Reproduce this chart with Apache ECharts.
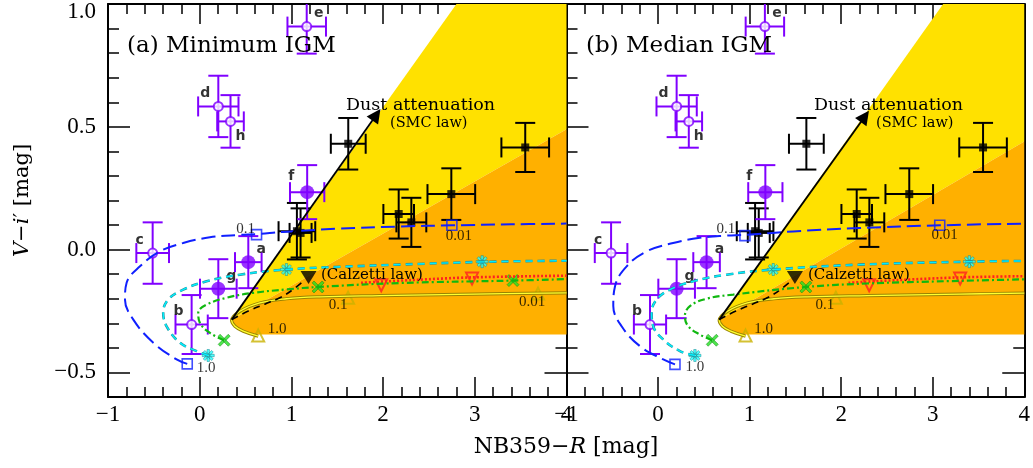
<!DOCTYPE html>
<html><head><meta charset="utf-8">
<script src="https://cdn.jsdelivr.net/npm/echarts@6/dist/echarts.min.js"></script>
<style>html,body{margin:0;padding:0;background:#fff}#c{width:1033px;height:468px}</style>
</head><body><div id="c"></div>
<script>
// ---------------- data ----------------
const xTickValues = [-1, 0, 1, 2, 3, 4];
const yMajorTicks = [-0.5, 0, 0.5, 1.0];
const panelTitles = ['(a) Minimum IGM', '(b) Median IGM'];

// observed objects (same in both panels)
const obsNames  = ['a', 'b', 'c', 'd', 'e', 'f', 'g', 'h'];
const obsX      = [0.53, -0.088, -0.513, 0.203, 1.167, 1.172, 0.203, 0.336];
const obsY      = [-0.051, -0.305, -0.014, 0.583, 0.908, 0.234, -0.159, 0.522];
const obsXErr   = [0.145, 0.176, 0.178, 0.22, 0.21, 0.187, 0.2, 0.145];
const obsYErr   = [0.106, 0.12, 0.125, 0.125, 0.11, 0.11, 0.12, 0.107];
const obsFilled = [true, false, false, false, false, true, true, false];

// black points (same in both panels)
const blkX    = [1.62, 3.55, 2.744, 2.17, 2.308, 1.06, 1.10];
const blkY    = [0.431, 0.416, 0.226, 0.145, 0.111, 0.075, 0.068];
const blkXErr = [0.19, 0.26, 0.26, 0.167, 0.163, 0.2, 0.12];
const blkYErr = [0.105, 0.10, 0.105, 0.10, 0.10, 0.115, 0.10];

// panel (a)
const yellowFillA = [[0.348,-0.285],[2.8,1.0],[4,1.0],[4,0.49]];
const orangeFillA = [[0.348,-0.285],[4,0.49],[4,-0.346],[0.64,-0.346],[0.5,-0.336],[0.4,-0.318],[0.352,-0.298]];
const smcA = [[0.348,-0.285],[1.927,0.549]];
const calzLineA = [[0.35,-0.285],[0.53,-0.25],[0.71,-0.222],[0.89,-0.193],[1.04,-0.156],[1.15,-0.122]];
const calzMarkA = [[1.187,-0.113]];
const yellowLineA = [[0.638,-0.352],[0.475,-0.332],[0.384,-0.312],[0.348,-0.288],[0.438,-0.251],[0.656,-0.217],[0.946,-0.2],[1.31,-0.192],[1.967,-0.187],[3.0,-0.181],[4,-0.176]];
const yellowMarksA = [[0.638,-0.35],[1.618,-0.196],[3.69,-0.179]];
const redLineA = [[1.76,-0.135],[2.3,-0.124],[2.97,-0.113],[4,-0.106]];
const redMarksA = [[1.98,-0.145],[2.97,-0.118]];
const greenLineA = [[0.267,-0.369],[0.111,-0.339],[0.002,-0.298],[-0.016,-0.257],[0.075,-0.224],[0.293,-0.196],[0.583,-0.176],[0.95,-0.162],[1.291,-0.152],[2.18,-0.136],[3.417,-0.126],[4,-0.12]];
const greenMarksA = [[0.267,-0.369],[1.291,-0.152],[3.417,-0.126]];
const cyanLineA = [[0.093,-0.431],[-0.034,-0.413],[-0.216,-0.379],[-0.361,-0.312],[-0.398,-0.257],[-0.343,-0.203],[-0.18,-0.163],[0.075,-0.129],[0.438,-0.102],[0.946,-0.081],[1.6,-0.069],[2.18,-0.061],[3.08,-0.05],[4,-0.045]];
const cyanMarksA = [[0.093,-0.431],[0.946,-0.081],[3.08,-0.049]];
const blueLineA = [[-0.136,-0.465],[-0.252,-0.447],[-0.506,-0.379],[-0.724,-0.285],[-0.815,-0.203],[-0.797,-0.135],[-0.651,-0.068],[-0.434,-0.007],[-0.18,0.027],[0.111,0.05],[0.438,0.06],[0.62,0.063],[0.91,0.072],[1.5,0.085],[2.18,0.094],[2.75,0.099],[3.4,0.103],[4,0.106]];
const blueMarksA = [[-0.136,-0.465],[0.62,0.061],[2.75,0.099]];

// panel (b)
const yellowFillB = [[0.668,-0.285],[3.114,1.0],[4,1.0],[4,0.44]];
const orangeFillB = [[0.668,-0.285],[4,0.44],[4,-0.346],[0.96,-0.346],[0.82,-0.336],[0.72,-0.318],[0.672,-0.298]];
const smcB = [[0.668,-0.285],[2.259,0.542]];
const calzLineB = [[0.668,-0.285],[0.85,-0.25],[1.03,-0.222],[1.21,-0.193],[1.36,-0.156],[1.47,-0.122]];
const calzMarkB = [[1.495,-0.113]];
const yellowLineB = [[0.956,-0.352],[0.795,-0.332],[0.704,-0.312],[0.668,-0.288],[0.758,-0.251],[0.976,-0.217],[1.266,-0.2],[1.63,-0.192],[2.287,-0.187],[3.3,-0.181],[4,-0.177]];
const yellowMarksB = [[0.956,-0.35],[1.942,-0.196]];
const redLineB = [[2.08,-0.135],[2.62,-0.124],[3.30,-0.113],[4,-0.108]];
const redMarksB = [[2.306,-0.145],[3.30,-0.118]];
const greenLineB = [[0.592,-0.369],[0.457,-0.346],[0.33,-0.312],[0.293,-0.271],[0.348,-0.23],[0.53,-0.2],[0.821,-0.183],[1.615,-0.152],[2.277,-0.138],[3.2,-0.128],[4,-0.121]];
const greenMarksB = [[0.592,-0.369],[1.615,-0.152]];
const cyanLineB = [[0.403,-0.431],[0.239,-0.413],[0.057,-0.366],[-0.053,-0.312],[-0.07,-0.257],[-0.015,-0.203],[0.13,-0.163],[0.384,-0.129],[0.749,-0.102],[1.258,-0.081],[2.204,-0.061],[3.40,-0.049],[4,-0.046]];
const cyanMarksB = [[0.403,-0.431],[1.258,-0.081],[3.40,-0.049]];
const blueLineB = [[0.185,-0.467],[0.057,-0.447],[-0.198,-0.393],[-0.398,-0.312],[-0.489,-0.23],[-0.47,-0.149],[-0.343,-0.068],[-0.124,-0.007],[0.165,0.027],[0.457,0.048],[0.749,0.057],[0.949,0.06],[1.476,0.074],[2.204,0.088],[3.077,0.099],[4,0.106]];
const blueMarksB = [[0.185,-0.467],[0.949,0.057],[3.077,0.099]];

// marker annotations
const blueLabels = ['1.0', '0.1', '0.01'];
const yellowLabels = ['1.0', '0.1', '0.01'];

// ---------------- styles / positions ----------------
const FNUM = 'Liberation Serif';
const FTXT = 'DejaVu Serif';
const PURPLE = '#8000ff';
const blueLabelOffA = [[19,4],[-11,-6],[7,11]];
const blueLabelOffB = [[20,3],[-19,-7],[5,10]];
const yellowLabelOffA = [[19,-7],[-10,7],[-6,8]];
const yellowLabelOffB = [[18,-7],[-11,7]];
const obsLabelOff = [[13,-13],[-13,-13],[-13,-13],[-13,-13],[12,-13],[-16,-16],[13,-12],[10,15]];

const ASTER = 'path://M-1,-5L1,-5L1,5L-1,5Z M-5,-1L5,-1L5,1L-5,1Z M-2.8,-4.2L4.2,2.8L2.8,4.2L-4.2,-2.8Z M4.2,-2.8L-2.8,4.2L-4.2,2.8L2.8,-4.2Z';
const XMARK = 'path://M-3.4,-5L5,3.4L3.4,5L-5,-3.4Z M5,-3.4L-3.4,5L-5,3.4L3.4,-5Z';

const panels = [
  {yellowFill: yellowFillA, orangeFill: orangeFillA, smc: smcA, calzLine: calzLineA, calzMark: calzMarkA,
   yellowLine: yellowLineA, yellowMarks: yellowMarksA, yellowOff: yellowLabelOffA,
   redLine: redLineA, redMarks: redMarksA, greenLine: greenLineA, greenMarks: greenMarksA,
   cyanLine: cyanLineA, cyanMarks: cyanMarksA, blueLine: blueLineA, blueMarks: blueMarksA, blueOff: blueLabelOffA},
  {yellowFill: yellowFillB, orangeFill: orangeFillB, smc: smcB, calzLine: calzLineB, calzMark: calzMarkB,
   yellowLine: yellowLineB, yellowMarks: yellowMarksB, yellowOff: yellowLabelOffB,
   redLine: redLineB, redMarks: redMarksB, greenLine: greenLineB, greenMarks: greenMarksB,
   cyanLine: cyanLineB, cyanMarks: cyanMarksB, blueLine: blueLineB, blueMarks: blueMarksB, blueOff: blueLabelOffB}
];

function fmtNum(v, d) {
  const s = Math.abs(v).toFixed(d);
  return (v < -1e-9 ? '\u2212' : '') + s;
}

function xAx(g, pos, labels) {
  return {type:'value', gridIndex:g, position:pos, min:-1, max:4, interval:1,
    axisLine:{show:true, onZero:false, lineStyle:{color:'#000', width:2}},
    axisTick:{show:true, inside:true, length:20, lineStyle:{color:'#000', width:1.5}},
    minorTick:{show:true, splitNumber:5, length:10, lineStyle:{color:'#000', width:1.5}},
    splitLine:{show:false}, minorSplitLine:{show:false},
    axisLabel:{show:labels, margin:6, showMinLabel:true, showMaxLabel:true, hideOverlap:false,
      color:'#000', fontFamily:FNUM, fontSize:23,
      customValues: xTickValues,
      formatter: v => fmtNum(v, 0)}
  };
}
function yMinor(g, pos) {
  return {type:'value', gridIndex:g, position:pos, min:-0.6, max:1.0, interval:0.1,
    axisLine:{show:true, onZero:false, lineStyle:{color:'#000', width:2}},
    axisTick:{show:true, inside:true, length:11, lineStyle:{color:'#000', width:1.5}},
    axisLabel:{show:false}, splitLine:{show:false}};
}
function yMajor(g, pos, labels, name) {
  const ax = {type:'value', gridIndex:g, position:pos, min:-0.6, max:1.0,
    axisLine:{show:false, onZero:false},
    axisTick:{show:true, inside:true, length:22, customValues: yMajorTicks, lineStyle:{color:'#000', width:1.5}},
    axisLabel:{show:labels, customValues: yMajorTicks, margin:12, showMinLabel:true, showMaxLabel:true, hideOverlap:false,
      color:'#000', fontFamily:FNUM, fontSize:23,
      formatter: v => Math.abs(v - 1) < 1e-9 ? '{t|' + fmtNum(v, 1) + '}' : fmtNum(v, 1),
      rich:{t:{padding:[16,0,0,0], fontFamily:FNUM, fontSize:23, color:'#000'}}},
    splitLine:{show:false}};
  if (name) {
    ax.name = '{i|V}\u2212{i|i}\u2032 [mag]';
    ax.nameLocation = 'middle';
    ax.nameGap = 75;
    ax.nameRotate = 90;
    ax.nameTextStyle = {fontFamily:FTXT, fontSize:21, color:'#000',
      rich:{i:{fontStyle:'italic', fontFamily:FTXT, fontSize:21, color:'#000'}}};
  }
  return ax;
}

function polySeries(p, pts, color) {
  return {type:'custom', xAxisIndex:2*p, yAxisIndex:4*p, silent:true, clip:true,
    data:[pts[0]],
    renderItem: (params, api) => ({type:'polygon', shape:{points: pts.map(q => api.coord(q))}, style:{fill:color}})};
}
function lineSeries(p, data, color, width, dash, smooth) {
  return {type:'line', xAxisIndex:2*p, yAxisIndex:4*p, data:data, showSymbol:false, symbol:'none',
    smooth:smooth, clip:true, silent:true, lineStyle:{color:color, width:width, type:dash}};
}
function markSeries(p, pts, symbol, size, style, rotate, labels, offsets) {
  return {type:'scatter', xAxisIndex:2*p, yAxisIndex:4*p, symbol:symbol, symbolSize:size,
    symbolRotate: rotate || 0, silent:true, itemStyle:style,
    data: pts.map((v, i) => ({value:v,
      label: (labels && offsets[i]) ? {show:true, position:'inside', formatter:labels[i], offset:offsets[i],
        color:'#000', fontFamily:FNUM, fontSize:15} : {show:false}}))};
}
function errSeries(p, xs, ys, exs, eys, color) {
  const cap = 10;
  return {type:'custom', xAxisIndex:2*p, yAxisIndex:4*p, silent:true, clip:true,
    data: xs.map((x, i) => [x, ys[i], exs[i], eys[i]]),
    renderItem: (params, api) => {
      const x = api.value(0), y = api.value(1), ex = api.value(2), ey = api.value(3);
      const c = api.coord([x, y]);
      const l = api.coord([x - ex, y]), r = api.coord([x + ex, y]);
      const t = api.coord([x, y + ey]), b = api.coord([x, y - ey]);
      const st = {stroke:color, lineWidth:2};
      const ln = (x1, y1, x2, y2) => ({type:'line', shape:{x1:x1, y1:y1, x2:x2, y2:y2}, style:st});
      return {type:'group', children:[
        ln(l[0], c[1], r[0], c[1]), ln(c[0], t[1], c[0], b[1]),
        ln(l[0], c[1]-cap, l[0], c[1]+cap), ln(r[0], c[1]-cap, r[0], c[1]+cap),
        ln(c[0]-cap, t[1], c[0]+cap, t[1]), ln(c[0]-cap, b[1], c[0]+cap, b[1])]};
    }};
}

const series = [];
panels.forEach((P, p) => {
  series.push(polySeries(p, P.yellowFill, '#ffe100'));
  series.push(polySeries(p, P.orangeFill, '#ffb000'));
  // yellow track
  series.push(lineSeries(p, P.yellowLine, '#9a8400', 3.2, 'solid', 0.4));
  series.push(lineSeries(p, P.yellowLine, '#ffff30', 1.3, 'solid', 0.4));
  series.push(markSeries(p, P.yellowMarks, 'triangle', 12, {color:'rgba(0,0,0,0)', borderColor:'#c9b200', borderWidth:2}, 0, yellowLabels, P.yellowOff));
  // Calzetti
  series.push(lineSeries(p, P.calzLine, '#000', 1.6, [7,5], 0.4));
  series.push(markSeries(p, P.calzMark, 'triangle', [16,13], {color:'#000'}, 180));
  // red
  series.push(lineSeries(p, P.redLine, '#ff2020', 2.6, [2,2], 0.3));
  series.push(markSeries(p, P.redMarks, 'triangle', 12, {color:'rgba(0,0,0,0)', borderColor:'#ff2020', borderWidth:2}, 180));
  // green
  series.push(lineSeries(p, P.greenLine, '#10b810', 2.2, [7,3,2,3], 0.4));
  series.push(markSeries(p, P.greenMarks, XMARK, 12, {color:'#22e022', borderColor:'#0f7f0f', borderWidth:0.6}));
  // cyan
  series.push(lineSeries(p, P.cyanLine, '#2a8f98', 2.6, [7,5], 0.4));
  series.push(lineSeries(p, P.cyanLine, '#00f0ff', 1.4, [7,5], 0.4));
  series.push(markSeries(p, P.cyanMarks, ASTER, 12, {color:'#20ffff', borderColor:'#15838c', borderWidth:0.6}));
  // blue
  series.push(lineSeries(p, P.blueLine, '#1020ff', 2, [14,6], 0.4));
  series.push(markSeries(p, P.blueMarks, 'rect', 10, {color:'rgba(0,0,0,0)', borderColor:'#1020ff', borderWidth:1.6}, 0, blueLabels, P.blueOff));
  // SMC arrow
  series.push({type:'line', xAxisIndex:2*p, yAxisIndex:4*p, data:[], silent:true,
    markLine:{silent:true, symbol:['none','triangle'], symbolSize:14, label:{show:false},
      lineStyle:{color:'#000', width:1.8, type:'solid'},
      emphasis:{disabled:true},
      data:[[{coord:P.smc[0]}, {coord:P.smc[1]}]]}});
  // black points
  series.push(errSeries(p, blkX, blkY, blkXErr, blkYErr, '#000'));
  series.push({type:'scatter', xAxisIndex:2*p, yAxisIndex:4*p, symbol:'rect', symbolSize:8, silent:true,
    itemStyle:{color:'#000'}, data: blkX.map((x, i) => [x, blkY[i]])});
  // purple
  series.push(errSeries(p, obsX, obsY, obsXErr, obsYErr, PURPLE));
  series.push({type:'scatter', xAxisIndex:2*p, yAxisIndex:4*p, silent:true,
    data: obsX.map((x, i) => ({value:[x, obsY[i]],
      symbol:'circle', symbolSize: obsFilled[i] ? 14 : 9,
      itemStyle: obsFilled[i] ? {color:PURPLE} : {color:'#fff', borderColor:PURPLE, borderWidth:2},
      label:{show:true, position:'inside', formatter: obsNames[i], offset: obsLabelOff[i],
        color:'#000', fontFamily:'DejaVu Sans', fontWeight:'bold', fontSize:14}}))});
});

function txt(x, y, text, size, family) {
  return {type:'text', x:x, y:y, z:100, zlevel:0, silent:true,
    style:{text:text, fontFamily:family || FTXT, fontSize:size, fill:'#000', align:'left', verticalAlign:'middle',
      textAlign:'left', textVerticalAlign:'middle'}};
}
const richI = {i:{fontStyle:'italic', fontFamily:FTXT, fontSize:22, fill:'#000', color:'#000'}};
const graphic = [
  txt(127, 46, panelTitles[0], 23), txt(586, 46, panelTitles[1], 23),
  txt(346, 105, 'Dust attenuation', 17.5), txt(390, 123, '(SMC law)', 14.5),
  txt(814, 105, 'Dust attenuation', 17.5), txt(876, 123, '(SMC law)', 14.5),
  txt(321, 275, '(Calzetti law)', 15), txt(808, 275, '(Calzetti law)', 15),
  {type:'text', x:566, y:447, z:100, silent:true,
   style:{text:'NB359\u2212{i|R} [mag]', rich:richI, fontFamily:FTXT, fontSize:22, fill:'#000',
     align:'center', verticalAlign:'middle', textAlign:'center', textVerticalAlign:'middle'}}
];

const option = {
  animation:false,
  backgroundColor:'#fff',
  grid:[{left:108, top:4, width:458.5, height:393}, {left:566.5, top:4, width:458, height:393}],
  xAxis:[xAx(0,'bottom',true), xAx(0,'top',false), xAx(1,'bottom',true), xAx(1,'top',false)],
  yAxis:[yMinor(0,'left'), yMajor(0,'left',true,true), yMinor(0,'right'), yMajor(0,'right',false),
         yMinor(1,'left'), yMajor(1,'left',false), yMinor(1,'right'), yMajor(1,'right',false)],
  series: series,
  graphic: graphic
};
const chart = echarts.init(document.getElementById('c'), null, {renderer:'canvas', width:1033, height:468});
chart.setOption(option);
</script>
</body></html>
